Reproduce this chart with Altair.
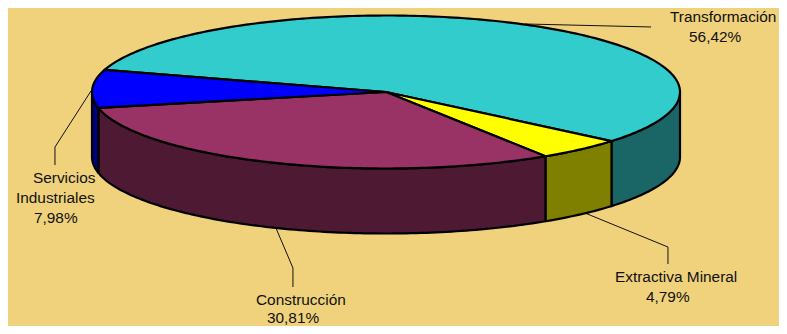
import math
import altair as alt
import pandas as pd

# Chart values
CATEGORIES = ["Transformación", "Extractiva Mineral", "Construcción", "Servicios Industriales"]
SHARES = [56.42, 4.79, 30.81, 7.98]
TOP_COLORS = ["#33CCCC", "#FFFF00", "#993366", "#0000FF"]
SIDE_COLORS = ["#1A6666", "#808000", "#4D1933", "#000080"]
LABEL_LINES = [["Transformación"], ["Extractiva Mineral"], ["Construcción"], ["Servicios", "Industriales"]]

BG = "#F0D27C"
CX, CY, RX, RY, DEPTH = 386, 92, 294, 76.5, 65
START = 196.8


def pt(t, dy=0):
    r = math.radians(t)
    return CX + RX * math.cos(r), CY + RY * math.sin(r) + dy


spans = []
a = START
for s in SHARES:
    spans.append((a, a + s * 3.6))
    a += s * 3.6


def arc(a0, a1, dy=0):
    n = max(2, int(abs(a1 - a0)) + 1)
    return [pt(a0 + (a1 - a0) * i / n, dy) for i in range(n + 1)]


top_rows, wall_rows = [], []
for i, (a0, a1) in enumerate(spans):
    ring = [(CX, CY)] + arc(a0, a1) + [(CX, CY)]
    for k, (x, y) in enumerate(ring):
        top_rows.append(dict(x=x, y=y, k=k, s=i, c=TOP_COLORS[i]))
    # the visible front of the slab is where sin(t) >= 0
    for shift in (0, 360):
        lo, hi = max(a0, shift), min(a1, shift + 180)
        if hi > lo:
            loop = arc(lo, hi) + arc(hi, lo, DEPTH)
            loop.append(loop[0])
            for k, (x, y) in enumerate(loop):
                wall_rows.append(dict(x=x, y=y, k=k, s=f"{i}-{shift}", c=SIDE_COLORS[i]))

X = alt.X("x:Q", axis=None, scale=alt.Scale(domain=[8, 779], nice=False, zero=False))
Y = alt.Y("y:Q", axis=None, scale=alt.Scale(domain=[326, 8], nice=False, zero=False))


def polys(rows):
    return alt.Chart(pd.DataFrame(rows)).mark_line(
        stroke="black", strokeWidth=2.2, strokeJoin="round", interpolate="linear", clip=False
    ).encode(x=X, y=Y, order="k:Q", detail="s:N", fill=alt.Fill("c:N", scale=None))


# Leader paths, relative to the rim point at the middle of each slice
LEADER_OFFSETS = [
    [(-0.6, -0.7), (125.4, 2.3)],
    [(4.3, -1.3), (87.3, 32.7), (87.3, 49.7)],
    [(3, 0.4), (20, 40.4), (20, 59.4)],
    [(-1.3, 2.3), (-37.3, 58.3), (-37.3, 76.3)],
]
LEADER_DY = [0, DEPTH, DEPTH, 0]
# Label line placement, relative to the same rim point (left edge, baseline)
LABEL_OFFSETS = [
    [(144.4, -2.7)],
    [(34.3, 67.7)],
    [(-17, 76.9)],
    [(-59.3, 94.3), (-76.3, 114.3)],
]
PCT_OFFSETS = [(163.4, 17.3), (65.3, 87.7), (-6, 95.2), (-58.3, 134.3)]

leader_rows, text_rows = [], []
for i, (a0, a1) in enumerate(spans):
    ax, ay = pt((a0 + a1) / 2, LEADER_DY[i])
    for k, (dx, dy) in enumerate(LEADER_OFFSETS[i]):
        leader_rows.append(dict(x=ax + dx, y=ay + dy, k=k, s=i))
    for line, (dx, dy) in zip(LABEL_LINES[i], LABEL_OFFSETS[i]):
        text_rows.append(dict(x=ax + dx, y=ay + dy, t=line))
    pct = f"{SHARES[i]:.2f}".replace(".", ",") + "%"
    text_rows.append(dict(x=ax + PCT_OFFSETS[i][0], y=ay + PCT_OFFSETS[i][1], t=pct))

leaders = alt.Chart(pd.DataFrame(leader_rows)).mark_line(
    color="#111111", strokeWidth=1, interpolate="linear"
).encode(x=X, y=Y, order="k:Q", detail="s:N")

texts = alt.Chart(pd.DataFrame(text_rows)).mark_text(
    align="left", baseline="alphabetic", font="Liberation Sans", fontSize=15.4, color="#111111"
).encode(x=X, y=Y, text="t:N")

chart = alt.layer(leaders, polys(wall_rows), polys(top_rows), texts).properties(
    width=771, height=318, background=BG, padding=0,
    autosize=alt.AutoSizeParams(type="none"),
).configure_view(stroke=None)

chart.save("out.html", embed_options={"renderer": "svg", "actions": False})
